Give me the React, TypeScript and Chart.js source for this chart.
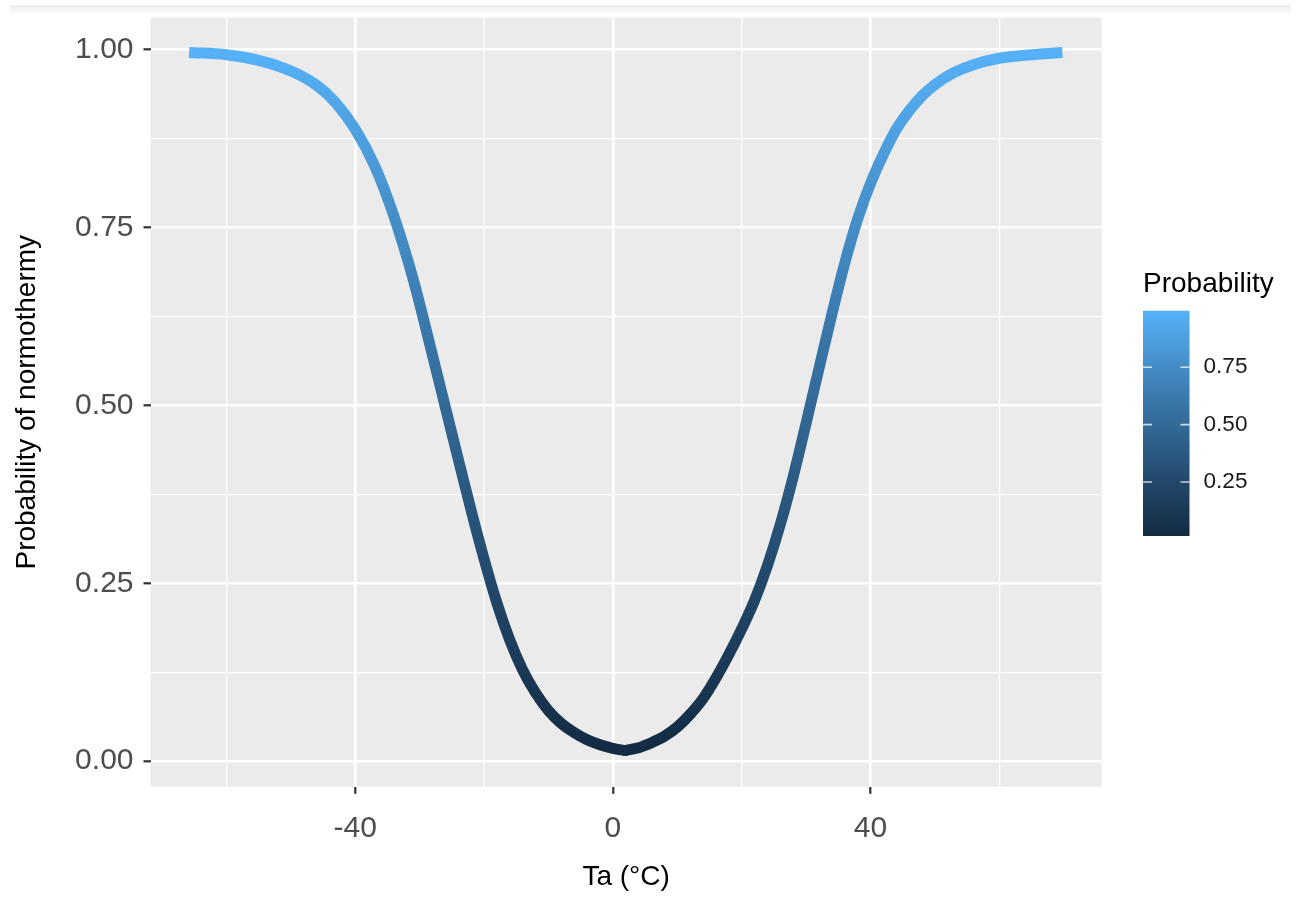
import React, { useEffect, useRef } from 'react';
import { Chart, registerables } from 'chart.js';

Chart.register(...registerables);

// ---------- data ----------
const leftTa = [-65.8, -60, -55, -50, -46, -43, -40, -37, -34, -31, -28, -26, -24, -22, -20, -18, -16, -14, -12, -10, -8, -6, -4, -2, 0, 1.9];
const leftP = [0.996, 0.993, 0.985, 0.970, 0.950, 0.925, 0.888, 0.837, 0.766, 0.677, 0.570, 0.497, 0.424, 0.352, 0.284, 0.222, 0.170, 0.128, 0.096, 0.071, 0.053, 0.040, 0.030, 0.023, 0.018, 0.015];
const rightTa = [1.9, 4, 6, 8, 10, 12, 14, 16, 18, 20, 22, 24, 26, 28, 30, 32, 34, 36, 38, 40, 42, 44, 46, 48, 50, 53, 56, 60, 65, 69.8];
const rightP = [0.015, 0.019, 0.026, 0.035, 0.048, 0.066, 0.088, 0.117, 0.150, 0.186, 0.226, 0.275, 0.333, 0.400, 0.475, 0.552, 0.628, 0.700, 0.762, 0.812, 0.853, 0.888, 0.914, 0.935, 0.951, 0.968, 0.979, 0.988, 0.993, 0.996];

const xMajorTicks = [-40, 0, 40];
const xMinorTicks = [-60, -20, 20, 60];
const yMajorTicks = [0, 0.25, 0.5, 0.75, 1.0];
const yMinorTicks = [0.125, 0.375, 0.625, 0.875];
const legendTicks = [0.25, 0.5, 0.75];

const xTitle = 'Ta (°C)';
const yTitle = 'Probability of normothermy';
const legendTitle = 'Probability';

// ---------- styling ----------
const LOW = '#132B43';
const HIGH = '#56B1F7';
const FONT = "'Liberation Sans', Arial, Helvetica, sans-serif";
const X_MIN = -71.8, X_MAX = 75.9, Y_MIN = -0.036, Y_MAX = 1.045;
const W = 1296, H = 898;
const AREA = { left: 150.5, right: 1101.7, top: 17.7, bottom: 786.8 };

const allP = leftP.concat(rightP);
const V_MIN = Math.min(...allP);
const V_MAX = Math.max(...allP);

// Lab interpolation (like ggplot's seq_gradient_pal)
function hexToRgb(h: string) {
  const n = parseInt(h.slice(1), 16);
  return [(n >> 16) & 255, (n >> 8) & 255, n & 255];
}
function toLin(c: number) { c /= 255; return c <= 0.04045 ? c / 12.92 : Math.pow((c + 0.055) / 1.055, 2.4); }
function fromLin(c: number) {
  const v = c <= 0.0031308 ? 12.92 * c : 1.055 * Math.pow(c, 1 / 2.4) - 0.055;
  return Math.round(Math.max(0, Math.min(1, v)) * 255);
}
function rgbToLab(rgb: number[]) {
  const R = toLin(rgb[0]), G = toLin(rgb[1]), B = toLin(rgb[2]);
  const X = (0.4124 * R + 0.3576 * G + 0.1805 * B) / 0.95047;
  const Y = 0.2126 * R + 0.7152 * G + 0.0722 * B;
  const Z = (0.0193 * R + 0.1192 * G + 0.9505 * B) / 1.08883;
  const f = (t: number) => (t > 0.008856 ? Math.cbrt(t) : 7.787 * t + 16 / 116);
  const fx = f(X), fy = f(Y), fz = f(Z);
  return [116 * fy - 16, 500 * (fx - fy), 200 * (fy - fz)];
}
function labToRgb(lab: number[]) {
  const fy = (lab[0] + 16) / 116, fx = fy + lab[1] / 500, fz = fy - lab[2] / 200;
  const inv = (t: number) => (t * t * t > 0.008856 ? t * t * t : (t - 16 / 116) / 7.787);
  const X = inv(fx) * 0.95047, Y = inv(fy), Z = inv(fz) * 1.08883;
  const R = 3.2406 * X - 1.5372 * Y - 0.4986 * Z;
  const G = -0.9689 * X + 1.8758 * Y + 0.0415 * Z;
  const B = 0.0557 * X - 0.204 * Y + 1.057 * Z;
  return `rgb(${fromLin(R)},${fromLin(G)},${fromLin(B)})`;
}
const labLow = rgbToLab(hexToRgb(LOW));
const labHigh = rgbToLab(hexToRgb(HIGH));
function colorAt(t: number) {
  return labToRgb(labLow.map((v, i) => v + (labHigh[i] - v) * t));
}
function makeGradient(ctx: CanvasRenderingContext2D, yLow: number, yHigh: number) {
  const g = ctx.createLinearGradient(0, yLow, 0, yHigh);
  const n = 24;
  for (let i = 0; i <= n; i++) g.addColorStop(i / n, colorAt(i / n));
  return g;
}

function lineColor(context: any) {
  const chart = context.chart;
  if (!chart.chartArea) return LOW;
  const y = chart.scales.y;
  return makeGradient(chart.ctx, y.getPixelForValue(V_MIN), y.getPixelForValue(V_MAX));
}

const bgPlugin = {
  id: 'panelBg',
  beforeDraw(chart: any) {
    const { ctx, chartArea: a } = chart;
    ctx.save();
    ctx.fillStyle = '#ffffff';
    ctx.fillRect(0, 0, chart.width, chart.height);
    ctx.fillStyle = '#EBEBEB';
    ctx.fillRect(a.left, a.top, a.right - a.left, a.bottom - a.top);
    ctx.restore();
  },
};

const decoPlugin = {
  id: 'deco',
  afterDraw(chart: any) {
    const { ctx, chartArea: a } = chart;
    ctx.save();
    // axis titles
    ctx.fillStyle = '#000000';
    ctx.font = `28px ${FONT}`;
    ctx.textAlign = 'center';
    ctx.textBaseline = 'middle';
    ctx.fillText(xTitle, (a.left + a.right) / 2, 877);
    ctx.save();
    ctx.translate(27, (a.top + a.bottom) / 2);
    ctx.rotate(-Math.PI / 2);
    ctx.fillText(yTitle, 0, 0);
    ctx.restore();

    // legend
    const lx = 1143, ly = 310.7, lw = 46.5, lh = 225.3;
    ctx.textAlign = 'left';
    ctx.textBaseline = 'alphabetic';
    ctx.font = `28px ${FONT}`;
    ctx.fillText(legendTitle, lx, 292);
    ctx.fillStyle = makeGradient(ctx, ly + lh, ly);
    ctx.fillRect(lx, ly, lw, lh);
    ctx.strokeStyle = 'rgba(255,255,255,0.75)';
    ctx.lineWidth = 1.6;
    ctx.font = `22.6px ${FONT}`;
    ctx.textBaseline = 'middle';
    ctx.fillStyle = '#1a1a1a';
    legendTicks.forEach((v) => {
      const yy = ly + lh - ((v - V_MIN) / (V_MAX - V_MIN)) * lh;
      ctx.beginPath();
      ctx.moveTo(lx, yy); ctx.lineTo(lx + 9, yy);
      ctx.moveTo(lx + lw - 9, yy); ctx.lineTo(lx + lw, yy);
      ctx.stroke();
      ctx.fillText(v.toFixed(2), lx + lw + 14, yy);
    });
    ctx.restore();
  },
};

export default function App() {
  const ref = useRef<HTMLCanvasElement | null>(null);
  useEffect(() => {
    const canvas = ref.current;
    if (!canvas) return;
    const xTicksAll = xMajorTicks.concat(xMinorTicks).sort((p, q) => p - q);
    const yTicksAll = yMajorTicks.concat(yMinorTicks).sort((p, q) => p - q);
    const lastLeft = leftTa.length - 1;
    const chart = new Chart(canvas, {
      type: 'line',
      data: {
        datasets: [
          {
            data: leftTa.map((x, i) => ({ x, y: leftP[i] })),
            borderColor: lineColor,
            borderWidth: 11,
            borderCapStyle: 'butt',
            cubicInterpolationMode: 'monotone',
            pointRadius: (c: any) => (c.dataIndex === lastLeft ? 5.5 : 0),
            pointBackgroundColor: LOW,
            pointBorderWidth: 0,
            pointHoverRadius: 0,
            fill: false,
          },
          {
            data: rightTa.map((x, i) => ({ x, y: rightP[i] })),
            borderColor: lineColor,
            borderWidth: 11,
            borderCapStyle: 'butt',
            cubicInterpolationMode: 'monotone',
            pointRadius: 0,
            pointHoverRadius: 0,
            fill: false,
          },
        ],
      } as any,
      options: {
        animation: false,
        responsive: false,
        devicePixelRatio: 1,
        events: [],
        layout: { padding: { top: AREA.top, right: W - AREA.right, left: 0, bottom: 0 } },
        plugins: { legend: { display: false }, tooltip: { enabled: false }, title: { display: false } },
        scales: {
          x: {
            type: 'linear',
            min: X_MIN,
            max: X_MAX,
            afterBuildTicks: (s: any) => { s.ticks = xTicksAll.map((v) => ({ value: v })); },
            afterFit: (s: any) => {
              s.height = H - AREA.bottom;
              s.paddingLeft = 0; s.paddingRight = 0; s.paddingTop = 0; s.paddingBottom = 0;
            },
            ticks: {
              autoSkip: false,
              maxRotation: 0,
              padding: 20,
              color: '#4D4D4D',
              font: { family: FONT, size: 30, lineHeight: 1 },
              callback: (v: any) => (xMajorTicks.includes(v) ? String(v) : ''),
            },
            grid: {
              color: '#FFFFFF',
              lineWidth: (c: any) => (xMajorTicks.includes(c.tick?.value) ? 2.6 : 1.3),
              tickColor: (c: any) => (xMajorTicks.includes(c.tick?.value) ? '#333333' : 'rgba(0,0,0,0)'),
              tickLength: 7,
              tickWidth: 2.2,
            },
            border: { display: false },
          },
          y: {
            type: 'linear',
            min: Y_MIN,
            max: Y_MAX,
            afterBuildTicks: (s: any) => { s.ticks = yTicksAll.map((v) => ({ value: v })); },
            afterFit: (s: any) => {
              s.width = AREA.left;
              s.paddingLeft = 0; s.paddingRight = 0; s.paddingTop = 0; s.paddingBottom = 0;
            },
            ticks: {
              autoSkip: false,
              padding: 10,
              color: '#4D4D4D',
              font: { family: FONT, size: 30, lineHeight: 1 },
              callback: (v: any) => (yMajorTicks.includes(v) ? Number(v).toFixed(2) : ''),
            },
            grid: {
              color: '#FFFFFF',
              lineWidth: (c: any) => (yMajorTicks.includes(c.tick?.value) ? 2.6 : 1.3),
              tickColor: (c: any) => (yMajorTicks.includes(c.tick?.value) ? '#333333' : 'rgba(0,0,0,0)'),
              tickLength: 7,
              tickWidth: 2.2,
            },
            border: { display: false },
          },
        },
      } as any,
      plugins: [bgPlugin, decoPlugin],
    });
    return () => chart.destroy();
  }, []);

  return (
    <div style={{ position: 'fixed', left: 0, top: 0, width: W, height: H, background: '#fff' }}>
      <canvas ref={ref} width={W} height={H} style={{ display: 'block', width: W, height: H }} />
      <div
        style={{
          position: 'absolute', left: 10, top: 5, width: 1281, height: 10,
          background: 'linear-gradient(#ececec, rgba(255,255,255,0))', pointerEvents: 'none',
        }}
      />
    </div>
  );
}
